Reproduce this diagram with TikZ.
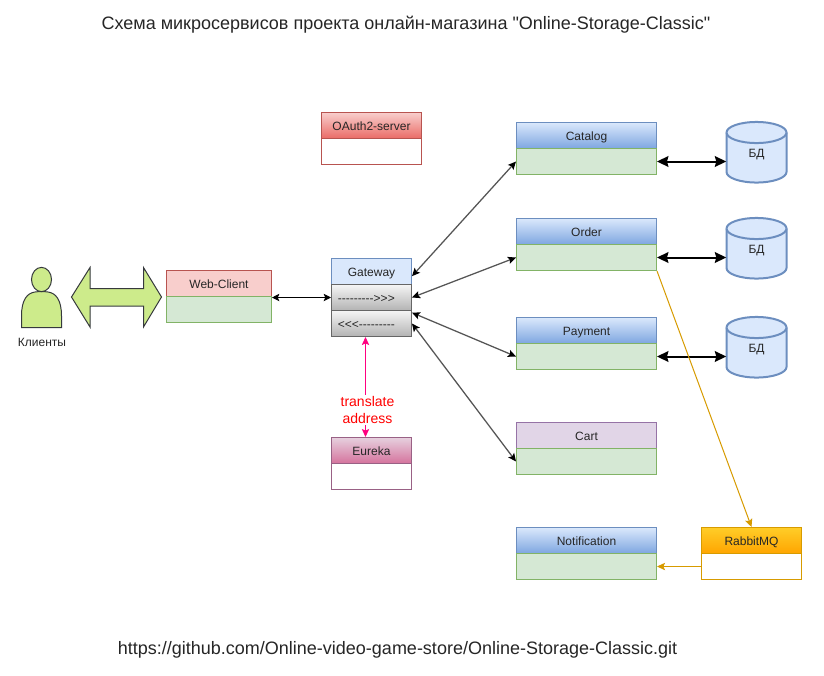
\documentclass[tikz,border=0pt]{standalone}
\usepackage{fontspec}
\newfontfamily\lsans{Liberation Sans}
\usetikzlibrary{arrows.meta}
\definecolor{blueS}{HTML}{6C8EBF}\definecolor{blueF}{HTML}{DAE8FC}\definecolor{blueG}{HTML}{7EA6E0}
\definecolor{greenS}{HTML}{82B366}\definecolor{greenF}{HTML}{D5E8D4}
\definecolor{redS}{HTML}{B85450}\definecolor{redF}{HTML}{F8CECC}\definecolor{redG}{HTML}{EA6B66}
\definecolor{pinkS}{HTML}{996185}\definecolor{pinkF}{HTML}{E6D0DE}\definecolor{pinkG}{HTML}{D5739D}
\definecolor{orS}{HTML}{D79B00}\definecolor{orF}{HTML}{FFCD28}\definecolor{orG}{HTML}{FFA500}
\definecolor{purS}{HTML}{9673A6}\definecolor{purF}{HTML}{E1D5E7}
\definecolor{grayS}{HTML}{666666}\definecolor{grayF}{HTML}{F5F5F5}\definecolor{grayG}{HTML}{B3B3B3}
\definecolor{limeF}{HTML}{CDEB8B}\definecolor{limeS}{HTML}{36393D}
\definecolor{linkC}{HTML}{555555}\definecolor{pinkL}{HTML}{FF0080}
\tikzset{
  x=0.75pt,y=-0.75pt,
  small/.style={font=\lsans\fontsize{9}{11}\selectfont,text=black!85,text height=8pt,text depth=1.2pt},
  cell/.style={rectangle,inner sep=0pt,line width=0.75pt,small,minimum height=19.5pt},
  w140/.style={minimum width=105pt},
  w100/.style={minimum width=75pt},
  w105/.style={minimum width=78.75pt},
  w80/.style={minimum width=60pt},
  bluehd/.style={cell,draw=blueS,top color=blueF,bottom color=blueG},
  bluepl/.style={cell,draw=blueS,fill=blueF},
  redhd/.style={cell,draw=redS,top color=redF,bottom color=redG},
  redpl/.style={cell,draw=redS,fill=redF},
  pinkhd/.style={cell,draw=pinkS,top color=pinkF,bottom color=pinkG},
  orhd/.style={cell,draw=orS,top color=orF,bottom color=orG},
  purhd/.style={cell,draw=purS,fill=purF},
  greenbd/.style={cell,draw=greenS,fill=greenF},
  graybd/.style={cell,draw=grayS,top color=grayF,bottom color=grayG},
  emptybd/.style={cell,fill=white},
  dbnode/.style={rectangle,inner sep=0pt,minimum width=45pt,minimum height=45pt,small},
  dbshape/.style={draw=blueS,fill=blueF,line width=1.5pt},
  link/.style={draw=linkC,line width=0.95pt,{Stealth[length=6pt,width=5.5pt,inset=1.2pt,black]}-{Stealth[length=6pt,width=5.5pt,inset=1.2pt,black]}},
  blacklink/.style={draw=black,line width=0.75pt,{Stealth[length=5.5pt,width=5.5pt,inset=1.2pt]}-{Stealth[length=5.5pt,width=5.5pt,inset=1.2pt]}},
  dblink/.style={draw=black,line width=1.5pt,{Stealth[length=8.5pt,width=8pt,inset=1pt]}-{Stealth[length=8.5pt,width=8pt,inset=1pt]}},
  mqlink/.style={draw=orS,line width=0.75pt,-{Stealth[length=6pt,width=5.5pt,inset=1.2pt]}},
  eurlink/.style={draw=pinkL,line width=0.75pt,{Stealth[length=6pt,width=5.5pt,inset=1.2pt]}-{Stealth[length=6pt,width=5.5pt,inset=1.2pt]}},
  lime/.style={draw=limeS,fill=limeF,line width=0.75pt},
  big/.style={font=\lsans\fontsize{13.5}{16}\selectfont,text=black!85,text height=10pt,text depth=1pt},
}
\newcommand{\dbcyl}[1]{%
  \path[dbshape] (726.5,#1+10.5) -- (726.5,#1+50) arc[start angle=180,end angle=360,x radius=22.5pt,y radius=7.9pt] -- (786.5,#1+10.5) arc[start angle=0,end angle=180,x radius=22.5pt,y radius=7.9pt] -- cycle;
  \path[dbshape] (726.5,#1+10.5) arc[start angle=180,end angle=360,x radius=22.5pt,y radius=7.9pt];
}
\begin{document}
\begin{tikzpicture}
\path[use as bounding box,fill=white] (0,0) rectangle (824,675);
% titles
\node[big] (title) at (406,23) {Схема микросервисов проекта онлайн-магазина "Online-Storage-Classic"};
\node[big] (url) at (397.5,648) {https://github.com/Online-video-game-store/Online-Storage-Classic.git};
% person
\path[lime] (21.5,327.5) -- (21.5,316) .. controls (21.5,300) and (27,293) .. (35,292) .. controls (37,291.5) and (46,291.5) .. (48,292) .. controls (56,293) and (61.5,300) .. (61.5,316) -- (61.5,327.5) -- cycle;
\path[lime] (41.5,279.5) ellipse[x radius=7.5pt,y radius=9.1pt];
\node[small] (clients) at (42,342) {Клиенты};
% big double arrow
\path[lime] (71.5,297) -- (90,267.5) -- (90,288.5) -- (143.5,288.5) -- (143.5,267.5) -- (161.5,297) -- (143.5,327) -- (143.5,306) -- (90,306) -- (90,327) -- cycle;
% boxes
\node[redpl,w105] (webh) at (219,283.5) {Web-Client};
\node[greenbd,w105] (webb) at (219,309.5) {};
\node[redhd,w100] (oauthh) at (371.5,125.5) {OAuth2-server};
\node[emptybd,draw=redS,w100] (oauthb) at (371.5,151.5) {};
\node[bluepl,w80] (gwh) at (371.5,271.5) {Gateway};
\node[graybd,w80] (gwa) at (371.5,297.5) {};
\node[graybd,w80] (gwb) at (371.5,323.5) {};
\node[small,anchor=west,inner sep=0pt] (gwat) at (337.5,297.5) {--------->>>};
\node[small,anchor=west,inner sep=0pt] (gwbt) at (337.5,323.5) {<<<---------};
\node[pinkhd,w80] (eurh) at (371.5,450.5) {Eureka};
\node[emptybd,draw=pinkS,w80] (eurb) at (371.5,476.5) {};
\node[bluehd,w140] (cath) at (586.5,135.5) {Catalog};
\node[greenbd,w140] (catb) at (586.5,161.5) {};
\node[bluehd,w140] (ordh) at (586.5,231.5) {Order};
\node[greenbd,w140] (ordb) at (586.5,257.5) {};
\node[bluehd,w140] (payh) at (586.5,330.5) {Payment};
\node[greenbd,w140] (payb) at (586.5,356.5) {};
\node[purhd,w140] (carth) at (586.5,435.5) {Cart};
\node[greenbd,w140] (cartb) at (586.5,461.5) {};
\node[bluehd,w140] (noth) at (586.5,540.5) {Notification};
\node[greenbd,w140] (notb) at (586.5,566.5) {};
\node[orhd,w100] (mqh) at (751.5,540.5) {RabbitMQ};
\node[emptybd,draw=orS,w100] (mqb) at (751.5,566.5) {};
% databases
\dbcyl{122}\node[dbnode] (db1) at (756.5,152.5) {БД};
\dbcyl{218}\node[dbnode] (db2) at (756.5,248.5) {БД};
\dbcyl{317}\node[dbnode] (db3) at (756.5,347.5) {БД};
% connectors
\draw[blacklink] (webb.north east |- gwa.west) -- (gwa.west);
\draw[link] ([yshift=-3.5pt]gwh.east) -- (catb.west);
\draw[link] (gwa.east) -- (ordb.west);
\draw[link] ([yshift=-2pt]gwb.north east) -- (payb.west);
\draw[link] (gwb.east) -- (cartb.west);
\draw[dblink] (catb.east) -- (catb.east -| db1.west);
\draw[dblink] (ordb.east) -- (ordb.east -| db2.west);
\draw[dblink] (payb.east) -- (payb.east -| db3.west);
\draw[mqlink] (ordb.south east) -- (mqh.north);
\draw[mqlink] (mqb.west) -- (notb.east);
\draw[eurlink] ([xshift=-4.5pt]gwb.south) -- node[pos=0.7,fill=white,inner sep=1pt,align=center,text=red,font=\lsans\fontsize{10.5}{13}\selectfont,xshift=1.5pt,yshift=-2.25pt] (tr) {translate\\address} ([xshift=-4.5pt]eurh.north);
\end{tikzpicture}
\end{document}
